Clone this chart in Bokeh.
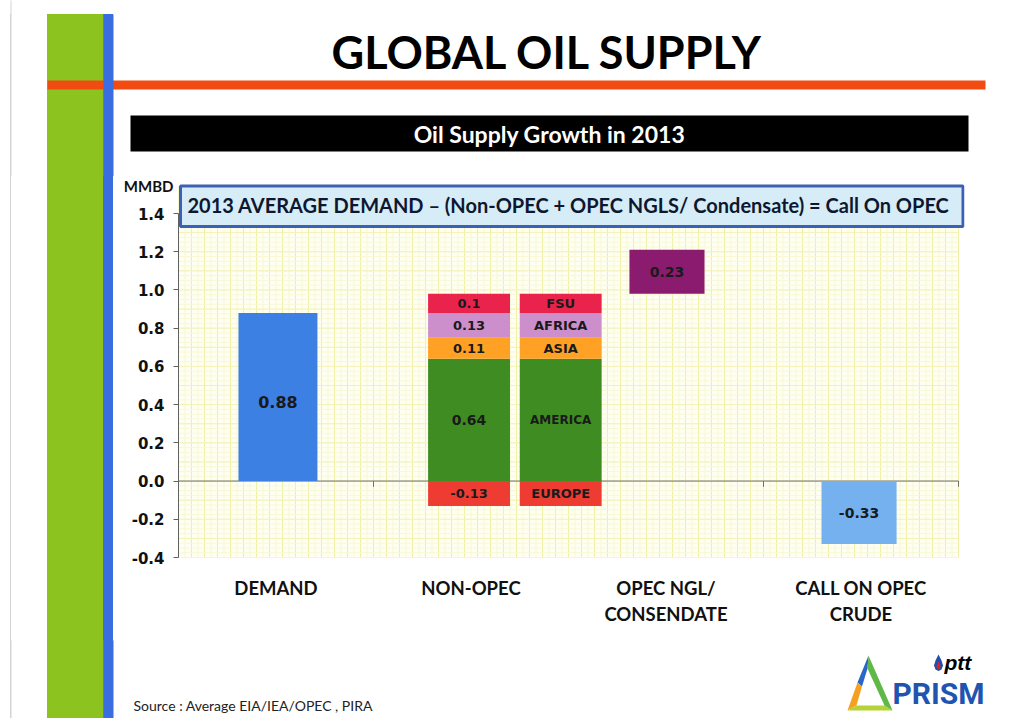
import numpy as np
from bokeh.plotting import figure
from bokeh.layouts import column, row
from bokeh.models import (FixedTicker, PrintfTickFormatter, LinearAxis, Range1d,
                          BoxAnnotation, Label)
from bokeh.core.properties import value
from bokeh.embed import file_html
from bokeh.resources import INLINE

# ---------------- data ----------------
categories = ["DEMAND", "NON-OPEC", "OPEC NGL/\nCONSENDATE", "CALL ON OPEC\nCRUDE"]
demand_value = 0.88
nonopec_regions = ["AMERICA", "ASIA", "AFRICA", "FSU"]
nonopec_values = [0.64, 0.11, 0.13, 0.10]
europe_label = "EUROPE"
europe_value = -0.13
opec_ngl_value = 0.23
call_on_opec_value = -0.33
y_ticks = [-0.4, -0.2, 0.0, 0.2, 0.4, 0.6, 0.8, 1.0, 1.2, 1.4]
y_unit_label = "MMBD"

region_colors = {"AMERICA": "#3f8d22", "ASIA": "#ffa125", "AFRICA": "#cc8fcc",
                 "FSU": "#e9234c", "EUROPE": "#ee3c33"}

# ---------------- layout geometry (page pixels) ----------------
W = 1008
H_TOTAL = 718
TOP_H = 176          # decoration strip above the chart
MID_BOTTOM = 640
MID_H = MID_BOTTOM - TOP_H
BOT_H = H_TOTAL - MID_BOTTOM
STRIP_W = 113        # width of the left stripes inside the chart row
FRAME_L, FRAME_R = 178, 964
FRAME_T, FRAME_B = TOP_H, 557
Y14_PX = 213         # pixel row of the 1.4 tick
PX_PER_X = 195.0
px_per_y = (FRAME_B - Y14_PX) / 1.8
y_top = 1.4 + (Y14_PX - FRAME_T) / px_per_y
y_paper = 1.4 + (Y14_PX - 186) / px_per_y
x_end = (FRAME_R - FRAME_L) / PX_PER_X

GREEN, BLUE, ORANGE, GRAY = "#8cc31f", "#3a6ee0", "#f24b12", "#d4d4d4"
STRIPE_CSS = ("linear-gradient(to right, white 0px, white 10px, %s 10px, %s 11px, white 11px, "
              "white 47px, %s 47px, %s 103px, %s 103px, %s 113px, white 113px, white 100%%)"
              % (GRAY, GRAY, GREEN, GREEN, BLUE, BLUE))


def bare_fig(w, h, bg, styles):
    f = figure(width=w, height=h, output_backend="svg", toolbar_location=None,
               x_axis_location=None, y_axis_location=None, min_border=0, styles=styles)
    f.outline_line_color = None
    f.xgrid.visible = False
    f.ygrid.visible = False
    f.background_fill_color = bg
    f.border_fill_color = bg
    return f


def solid(w, h, color):
    return bare_fig(w, h, color, {"background-color": color})


def deco_fig(w, h, stripe_top):
    styles = {"background-color": "white", "background-image": STRIPE_CSS,
              "background-repeat": "no-repeat", "background-position": "0px %dpx" % stripe_top}
    f = bare_fig(w, h, None, styles)
    f.x_range = Range1d(0, w)
    f.y_range = Range1d(h, 0)
    return f


def tools_for(f, ox, oy):
    def rect(l, r, t, b, color):
        f.quad(left=[l - ox], right=[r - ox], top=[t - oy], bottom=[b - oy],
               fill_color=color, line_color=None)

    def text(x, y, s, size, font="Lato", style="bold", color="#000000", align="center",
             baseline="middle"):
        f.text(x=[x - ox], y=[y - oy], text=[s], text_font=value(font), text_font_style=style,
               text_font_size=size, text_color=color, text_align=align, text_baseline=baseline)

    def poly(pts, color):
        f.patch(x=[a - ox for a, b in pts], y=[b - oy for a, b in pts], fill_color=color,
                line_color=None)

    return rect, text, poly


def stripes(rect, t, b):
    rect(10, 11, t - 3, b + 3, GRAY)
    rect(47, 103, max(t - 3, 14), b + 3, GREEN)


def blue_stripe(rect, t, b):
    rect(103, 113, max(t - 3, 14), b + 3, BLUE)


# ---------------- top strip ----------------
top = deco_fig(W, TOP_H, 14)
rect, text, poly = tools_for(top, 0, 0)
stripes(rect, 0, TOP_H)
rect(47, 985, 80, 89, ORANGE)
blue_stripe(rect, 0, TOP_H)
text(547, 51, "GLOBAL OIL SUPPLY", "45px")
rect(130, 968, 115, 151, "#000000")
text(549, 133, "Oil Supply Growth in 2013", "23px", color="#ffffff")

# ---------------- left stripes beside the chart (solid blocks) ----------------
left_blocks = [solid(10, MID_H, "white"), solid(1, MID_H, GRAY), solid(36, MID_H, "white"),
               solid(56, MID_H, GREEN), solid(10, MID_H, BLUE)]

# ---------------- bottom strip ----------------
bot = deco_fig(W, BOT_H, 0)
rect, text, poly = tools_for(bot, 0, MID_BOTTOM)
stripes(rect, MID_BOTTOM, H_TOTAL)
blue_stripe(rect, MID_BOTTOM, H_TOTAL)
text(133, 705, "Source :  Average EIA/IEA/OPEC , PIRA", "14px", style="normal",
     color="#222222", align="left")
# logo
poly([(868, 655), (857, 682), (861.5, 686), (867, 668)], "#2a66c8")
poly([(857, 682), (847, 710), (856, 705), (861.5, 686)], "#f4a020")
poly([(847, 710), (892, 710), (884, 705), (856, 705)], "#b5d334")
poly([(868, 655), (892, 710), (884, 705), (867, 668)], "#5fb848")
poly([(938, 654), (941, 660), (942.5, 665), (941, 669), (938, 670.5), (935, 669),
      (933.5, 665), (935, 660)], "#1e4fb0")
poly([(938, 661), (940, 665), (939.5, 668), (938, 668.5), (936.5, 668), (936, 665)], "#e02020")
text(944, 673, "ptt", "21px", font="Liberation Sans", style="bold italic", align="left",
     baseline="bottom")
text(892, 710, "PRISM", "30px", font="Roboto", style="bold", color="#1f55b0",
     align="left", baseline="bottom")

# ---------------- main chart ----------------
p = figure(width=W - STRIP_W, height=MID_H, x_range=Range1d(0, x_end),
           y_range=Range1d(-0.4, y_top),
           output_backend="svg", toolbar_location=None, x_axis_location=None,
           min_border_left=FRAME_L - STRIP_W, min_border_right=W - FRAME_R,
           min_border_top=0, min_border_bottom=MID_BOTTOM - FRAME_B,
           styles={"background-color": "white"})
p.outline_line_color = None
p.background_fill_color = "white"
p.border_fill_color = "white"
p.xgrid.visible = False
p.ygrid.visible = False

n = len(categories)
# graph paper
p.quad(left=[0], right=[n], bottom=[-0.4], top=[y_paper], fill_color="#fefef2", line_color=None)
vx_minor = [i / 30 for i in range(0, 30 * n + 1)]
vx_major = [i / 15 for i in range(0, 15 * n + 1)]
hy_minor = [-0.4 + i * 0.025 for i in range(0, 76)]
hy_major = [-0.4 + i * 0.1 for i in range(0, 19)]
for xs, c in [(vx_minor, "#f8f8d6"), (vx_major, "#efefa2")]:
    p.segment(x0=xs, x1=xs, y0=[-0.4] * len(xs), y1=[y_paper] * len(xs), line_color=c, line_width=1)
for ys, c in [(hy_minor, "#f8f8d6"), (hy_major, "#f2f2b6")]:
    p.segment(x0=[0] * len(ys), x1=[n] * len(ys), y0=ys, y1=ys, line_color=c, line_width=1)

# zero line and category boundary ticks
p.segment(x0=[0], x1=[n], y0=[0], y1=[0], line_color="#707070", line_width=1)
bounds = list(range(1, n + 1))
p.segment(x0=bounds, y0=[0] * n, x1=bounds, y1=[-0.03] * n, line_color="#707070", line_width=1)

# y axis
ya = p.yaxis[0]
ya.ticker = FixedTicker(ticks=y_ticks)
ya.bounds = (min(y_ticks), max(y_ticks))
ya.formatter = PrintfTickFormatter(format="%.1f")
ya.major_label_text_font = "DejaVu Sans"
ya.major_label_text_font_style = "bold"
ya.major_label_text_font_size = "15px"
ya.major_label_text_color = "#111111"
ya.axis_line_color = "#606060"
ya.major_tick_line_color = "#606060"
ya.major_tick_out = 5
ya.major_tick_in = 0
ya.minor_tick_line_color = None
ya.major_label_standoff = 9

# unit label above the tick labels
y_unit = 1.4 + (Y14_PX - 185) / px_per_y
ua = LinearAxis(ticker=FixedTicker(ticks=[y_unit]), major_label_overrides={y_unit: y_unit_label})
ua.axis_line_color = None
ua.major_tick_line_color = None
ua.minor_tick_line_color = None
ua.major_tick_out = 0
ua.major_tick_in = 0
ua.major_label_standoff = -45
ua.major_label_text_font = "Lato"
ua.major_label_text_font_style = "bold"
ua.major_label_text_font_size = "15px"
ua.major_label_text_color = "#111111"
p.add_layout(ua, "left")

# x axis with category labels
centers = [i + 0.5 for i in range(n)]
xa = LinearAxis(ticker=FixedTicker(ticks=centers),
                major_label_overrides={c: lab for c, lab in zip(centers, categories)})
xa.axis_line_color = None
xa.major_tick_line_color = None
xa.minor_tick_line_color = None
xa.major_tick_out = 0
xa.major_tick_in = 0
xa.major_label_standoff = 19
xa.major_label_text_font = "Lato"
xa.major_label_text_font_style = "bold"
xa.major_label_text_font_size = "18.5px"
xa.major_label_text_color = "#111111"
p.add_layout(xa, "below")

label_font = value("DejaVu Sans")
txt_color = "#1a1a1a"

# DEMAND bar
dx = centers[0] + 0.01
p.vbar(x=[dx], width=0.405, bottom=[0], top=[demand_value], fill_color="#3d80e4", line_color=None)
p.text(x=[dx], y=[demand_value * 0.47], text=["%g" % demand_value], text_align="center",
       text_baseline="middle", text_font=label_font, text_font_style="bold",
       text_font_size="16px", text_color=txt_color)

# NON-OPEC stacked bars (values bar and region bar)
tops = list(np.cumsum(nonopec_values))
bottoms = [0] + tops[:-1]
cols = [region_colors[r] for r in nonopec_regions]
mids = [(b + t) / 2 for b, t in zip(bottoms, tops)]
left_x = centers[1] - 0.01
right_x = centers[1] + 0.46
for bx, labels, sizes in [
    (left_x, ["%g" % v for v in nonopec_values], ["14px", "13px", "13px", "13px"]),
    (right_x, nonopec_regions, ["12px", "13px", "13px", "13px"]),
]:
    p.vbar(x=[bx] * 4, width=0.42, bottom=bottoms, top=tops, fill_color=cols, line_color=None)
    p.vbar(x=[bx], width=0.42, bottom=[0], top=[europe_value], fill_color=region_colors["EUROPE"],
           line_color=None)
    eu = "%g" % europe_value if bx == left_x else europe_label
    p.text(x=[bx] * 5, y=mids + [europe_value / 2], text=list(labels) + [eu],
           text_align="center", text_baseline="middle", text_font=label_font,
           text_font_style="bold", text_font_size=sizes + ["13px"], text_color=txt_color)

# OPEC NGL floating bar
ngl_base = tops[-1]
nx = centers[2] + 0.005
p.vbar(x=[nx], width=0.385, bottom=[ngl_base], top=[ngl_base + opec_ngl_value],
       fill_color="#8b1b6f", line_color=None)
p.text(x=[nx], y=[ngl_base + opec_ngl_value / 2], text=["%g" % opec_ngl_value], text_align="center",
       text_baseline="middle", text_font=label_font, text_font_style="bold",
       text_font_size="14px", text_color=txt_color)

# CALL ON OPEC bar
cx = centers[3] - 0.01
p.vbar(x=[cx], width=0.385, bottom=[0], top=[call_on_opec_value], fill_color="#74b1ee", line_color=None)
p.text(x=[cx], y=[call_on_opec_value / 2], text=["%g" % call_on_opec_value], text_align="center",
       text_baseline="middle", text_font=label_font, text_font_style="bold",
       text_font_size="14px", text_color=txt_color)

# formula box (screen units: x from frame left, y up from frame bottom)
p.add_layout(BoxAnnotation(left=180 - FRAME_L, right=962.5 - FRAME_L,
                           top=FRAME_B - 185.5, bottom=FRAME_B - 226,
                           left_units="screen", right_units="screen",
                           top_units="screen", bottom_units="screen",
                           fill_color="#d6ecf7", fill_alpha=1.0,
                           line_color="#3c60b6", line_width=3, line_alpha=1.0))
p.add_layout(Label(x=568 - FRAME_L, y=FRAME_B - 204, x_units="screen", y_units="screen",
                   text="2013 AVERAGE DEMAND \u2013 (Non-OPEC + OPEC NGLS/ Condensate) = Call On OPEC",
                   text_font="Lato", text_font_style="bold", text_font_size="20px",
                   text_color="#0d1830", text_align="center", text_baseline="middle"))

mid_row = row(*left_blocks, p, styles={"background": STRIPE_CSS})
layout = column(top, mid_row, bot, styles={"background": STRIPE_CSS})
open("out.html", "w").write(file_html(layout, INLINE))
